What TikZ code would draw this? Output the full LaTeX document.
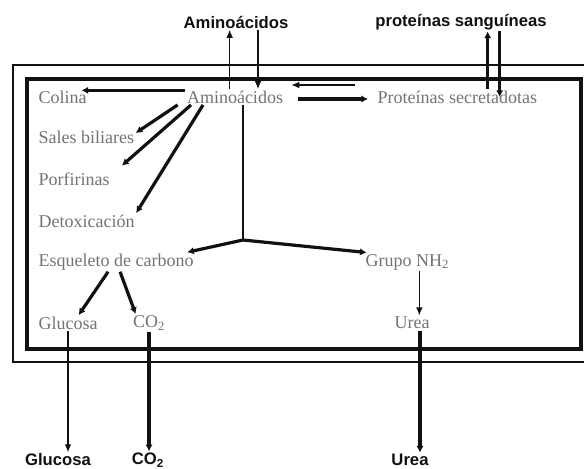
\documentclass[tikz,border=0pt]{standalone}
\usepackage{fontspec}
\setmainfont{Liberation Serif}
\setsansfont{Liberation Sans}
\usetikzlibrary{arrows.meta}
\definecolor{ink}{HTML}{111111}
\definecolor{labgray}{HTML}{737373}

\begin{document}
\begin{tikzpicture}[x=0.75pt,y=-0.75pt,
    inlab/.style={font=\fontsize{13.5}{15}\selectfont,text=labgray,inner sep=1pt},
    outlab/.style={font=\sffamily\bfseries\fontsize{12.5}{14}\selectfont,text=ink,inner sep=1pt},
    thinarr/.style={-{Latex[length=6pt,width=5pt]},line width=0.9pt,ink},
    thickarr/.style={-{Latex[length=5pt,width=5.5pt]},line width=2.4pt,ink}]
  \useasboundingbox (0,0) rectangle (584,468);
  % cell boxes
  \begin{scope}
    \clip (0,0) rectangle (584,468);
    \draw[ink,line width=1.3pt] (13,65) rectangle (600,362);
    \draw[ink,line width=3pt] (27,79) rectangle (581,349);
  \end{scope}
  % labels outside
  \node[outlab] (aminoOut) at (236,22) {Aminoácidos};
  \node[outlab] (protSang) at (461,22) {proteínas sanguíneas};
  \node[outlab] (glucOut) at (58,460) {Glucosa};
  \node[outlab] (co2Out) at (148,460) {CO\textsubscript{2}};
  \node[outlab] (ureaOut) at (410,460) {Urea};
  % labels inside
  \node[inlab] (aminoIn) at (235,97) {Aminoácidos};
  \node[inlab,anchor=west] (colina) at (37,97) {Colina};
  \node[inlab,anchor=west] (protSec) at (376,97) {Proteínas secretadotas};
  \node[inlab,anchor=west] (sales) at (37,137) {Sales biliares};
  \node[inlab,anchor=west] (porf) at (37,179) {Porfirinas};
  \node[inlab,anchor=west] (detox) at (37,221) {Detoxicación};
  \node[inlab,anchor=west] (esq) at (37,262) {Esqueleto de carbono};
  \node[inlab,anchor=west] (nh2) at (364,262) {Grupo NH\textsubscript{2}};
  \node[inlab] (glucIn) at (68,323) {Glucosa};
  \node[inlab] (co2In) at (149,323) {CO\textsubscript{2}};
  \node[inlab] (ureaIn) at (412,323) {Urea};
  \coordinate (branch) at (243,240);
  % exchange with blood
  \draw[thinarr] ([xshift=-4pt]aminoIn.north) -- ([xshift=-4pt]aminoIn.north |- aminoOut.south);
  \draw[thinarr] ([xshift=16.5pt]aminoOut.south) -- ([xshift=16.5pt]aminoOut.south |- aminoIn.north);
  \draw[thickarr] ([xshift=20pt]protSang.south |- protSec.north) -- ([xshift=20pt]protSang.south);
  \draw[thickarr] ([xshift=29pt]protSang.south) -- ([xshift=29pt]protSang.south |- protSec.center);
  % amino acid uses
  \draw[thickarr] ([yshift=5pt]aminoIn.west) -- ([shift={(-5pt,5pt)}]colina.east);
  \draw[thinarr,shorten <=16pt,shorten >=5pt] ([yshift=9pt]protSec.west) -- ([yshift=9pt]aminoIn.east);
  \draw[thickarr,shorten <=10pt,shorten >=6pt] ([yshift=-1.5pt]aminoIn.east) -- ([yshift=-1.5pt]protSec.west);
  \draw[thickarr] ([xshift=-43pt]aminoIn.south) -- ([yshift=3pt]sales.east);
  \draw[thickarr] ([xshift=-33pt]aminoIn.south) -- ([shift={(8pt,4pt)}]porf.north east);
  \draw[thickarr] ([xshift=-24pt]aminoIn.south) -- (detox.north east);
  % carbon skeleton and amino group
  \draw[ink,line width=0.9pt] (branch |- aminoIn.south) -- (branch);
  \draw[thickarr] (branch) -- ([xshift=-6pt]esq.north east);
  \draw[thickarr] (branch) -- ([xshift=2pt]nh2.north west);
  \draw[thickarr] ([xshift=-6pt]esq.south) -- ([xshift=8pt]glucIn.north);
  \draw[thickarr] ([xshift=3pt]esq.south) -- ([xshift=-10pt]co2In.north);
  \draw[thinarr] ([xshift=5.5pt]ureaIn.north |- nh2.south) -- ([xshift=5.5pt]ureaIn.north);
  % products leaving
  \draw[thinarr] (glucIn.south) -- (glucIn.south |- glucOut.north);
  \draw[thickarr] (co2In.south) -- (co2In.south |- co2Out.north);
  \draw[thickarr] ([xshift=6pt]ureaIn.south) -- ([xshift=6pt]ureaIn.south |- ureaOut.north);
\end{tikzpicture}
\end{document}
